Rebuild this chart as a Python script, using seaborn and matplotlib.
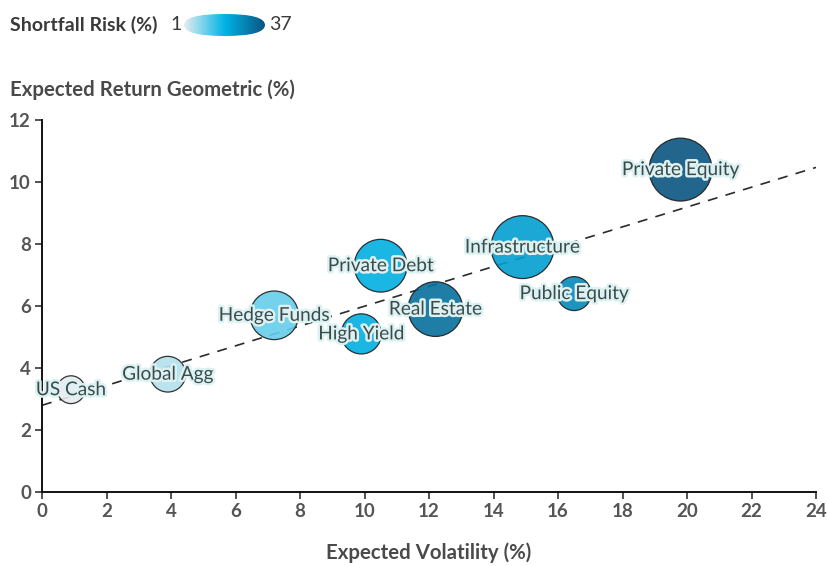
import numpy as np
import pandas as pd
import matplotlib
matplotlib.use("Agg")
import matplotlib.pyplot as plt
import matplotlib.patheffects as pe
from matplotlib.colors import LinearSegmentedColormap, Normalize
from matplotlib.patches import FancyBboxPatch
import seaborn as sns

# Capital market assumptions per asset class
assets = ["US Cash", "Global Agg", "Hedge Funds", "High Yield", "Private Debt",
          "Real Estate", "Infrastructure", "Public Equity", "Private Equity"]
volatility = [0.9, 3.9, 7.2, 9.9, 10.5, 12.2, 14.9, 16.5, 19.8]
expected_return = [3.3, 3.8, 5.7, 5.1, 7.3, 5.9, 7.9, 6.4, 10.4]
shortfall_risk = [1, 5, 11, 20, 20, 32, 23, 27, 37]
bubble_size = [20, 32, 58, 40, 68, 73, 96, 29, 96]

x_ticks = list(range(0, 25, 2))
y_ticks = list(range(0, 13, 2))

df = pd.DataFrame({
    "asset": assets,
    "vol": volatility,
    "ret": expected_return,
    "risk": shortfall_risk,
    "size": bubble_size,
})

sns.set_theme(style="white")
plt.rcParams["font.family"] = ["Lato", "DejaVu Sans"]

cmap = LinearSegmentedColormap.from_list("shortfall", ["#e6ecef", "#00b4e8", "#0b5581"])
risk_norm = Normalize(vmin=1, vmax=37)

fig = plt.figure(figsize=(8.27, 5.66), dpi=100)
ax = fig.add_axes([42 / 827, 1 - 492 / 566, (816 - 42) / 827, (492 - 120) / 566])

# Least-squares trend line across all asset classes
slope, intercept = np.polyfit(df["vol"], df["ret"], 1)
xs = np.array([0, 24])
ax.plot(xs, intercept + slope * xs, color="#2b2b2b", lw=1.2, dashes=(6, 5), zorder=1)

sns.scatterplot(
    data=df, x="vol", y="ret", hue="risk", size="size",
    palette=cmap, hue_norm=risk_norm,
    sizes=(400, 2050), size_norm=(min(bubble_size), max(bubble_size)),
    edgecolor="#1e1e1e", linewidth=0.9, alpha=0.9,
    legend=False, ax=ax, zorder=2,
)

halo = [pe.withStroke(linewidth=3.5, foreground="#dcf2f2")]
for _, row in df.iterrows():
    ax.text(row["vol"], row["ret"], row["asset"], ha="center", va="center",
            fontsize=13.7, color="#3d4a4a", zorder=5, path_effects=halo)

ax.set_xlim(0, 24)
ax.set_ylim(0, 12)
ax.set_xticks(x_ticks)
ax.set_yticks(y_ticks)
sns.despine(ax=ax)
for side in ("left", "bottom"):
    ax.spines[side].set_color("#111111")
    ax.spines[side].set_linewidth(1.4)
ax.tick_params(axis="both", which="major", length=5, width=1.2, color="#333333",
               labelsize=13.5, labelcolor="#555555", pad=3, bottom=True, left=True)
for lab in ax.get_xticklabels() + ax.get_yticklabels():
    lab.set_fontweight("bold")
ax.set_xlabel("")
ax.set_ylabel("")

fig.text(10 / 827, 1 - 90 / 566, "Expected Return Geometric (%)", ha="left", va="center",
         fontsize=14.7, fontweight="bold", color="#4a4a4a")
fig.text(429 / 827, 1 - 553 / 566, "Expected Volatility (%)", ha="center", va="center",
         fontsize=14.7, fontweight="bold", color="#4a4a4a")

# Shortfall risk colour legend
fig.text(10 / 827, 1 - 25 / 566, "Shortfall Risk (%)", ha="left", va="center",
         fontsize=14, fontweight="bold", color="#3a3a3a")
fig.text(176 / 827, 1 - 25 / 566, str(min(shortfall_risk)), ha="center", va="center",
         fontsize=14, color="#3a3a3a")
fig.text(269 / 827, 1 - 25 / 566, str(max(shortfall_risk)), ha="left", va="center",
         fontsize=14, color="#3a3a3a")
cax = fig.add_axes([184 / 827, 1 - 36 / 566, 81 / 827, 22 / 566])
gradient = np.linspace(min(shortfall_risk), max(shortfall_risk), 256).reshape(1, -1)
img = cax.imshow(gradient, cmap=cmap, norm=risk_norm, aspect="auto",
                 extent=(0, 1, 0, 1))
pill = FancyBboxPatch((0.0, 0.0), 1.0, 1.0, boxstyle="round,pad=0,rounding_size=0.5",
                      mutation_aspect=1.0, transform=cax.transAxes,
                      facecolor="none", edgecolor="none")
cax.add_patch(pill)
img.set_clip_path(pill)
cax.set_axis_off()

fig.savefig("out.png", dpi=100)
